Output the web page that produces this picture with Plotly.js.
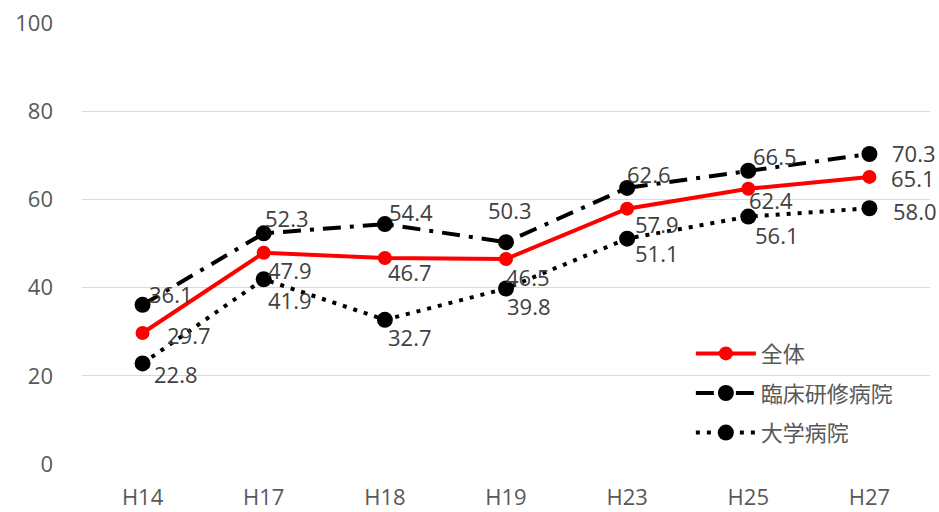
<!DOCTYPE html>
<html>
<head>
<meta charset="utf-8">
<script src="https://cdn.plot.ly/plotly-3.0.1.min.js"></script>
<style>html,body{margin:0;padding:0;background:#fff;}#chart{width:939px;height:512px;}</style>
</head>
<body>
<div id="chart"></div>
<script>
const categories = ["H14", "H17", "H18", "H19", "H23", "H25", "H27"];
const seriesNames = ["全体", "臨床研修病院", "大学病院"];
const allValues = [29.7, 47.9, 46.7, 46.5, 57.9, 62.4, 65.1];
const clinicalValues = [36.1, 52.3, 54.4, 50.3, 62.6, 66.5, 70.3];
const universityValues = [22.8, 41.9, 32.7, 39.8, 51.1, 56.1, 58.0];
const yTicks = [0, 20, 40, 60, 80, 100];

// label offsets in pixels (dx right, dy down) relative to each marker
const allOffsets = [[46, 2], [26, 17], [25, 14], [22, 18], [30, 15], [23, 11], [44, 1]];
const clinicalOffsets = [[28, -11], [23, -15], [26, -12], [4, -32], [22, -14], [27, -15], [45, -1]];
const univOffsets = [[33, 11], [26, 21], [25, 17], [23, 18], [30, 14], [29, 18], [46, 3]];

const FONT = '"Open Sans", "Noto Sans CJK JP", sans-serif';
const labelFont = {family: FONT, size: 22, color: "#404040"};
const fmt = v => v.toFixed(1);

const traces = [
  {
    x: categories, y: allValues, name: seriesNames[0], type: "scatter", mode: "lines+markers",
    legendgroup: "a", legendrank: 1,
    line: {color: "#ff0000", width: 4},
    marker: {color: "#ff0000", size: 14, symbol: "circle"}
  },
  {
    x: categories, y: clinicalValues, name: seriesNames[1], type: "scatter", mode: "lines+markers",
    legendgroup: "b", legendrank: 2,
    line: {color: "#000000", width: 4, dash: "18px,9px,4px,9px"},
    marker: {color: "#000000", size: 16, symbol: "circle"}
  },
  {
    x: categories, y: universityValues, name: seriesNames[2], type: "scatter", mode: "lines+markers",
    legendgroup: "c", legendrank: 3,
    line: {color: "#000000", width: 4, dash: "4px,7px"},
    marker: {color: "#000000", size: 16, symbol: "circle"}
  }
];
const drawOrder = [traces[1], traces[2], traces[0]];

function labels(values, offsets) {
  return values.map((v, i) => ({
    x: categories[i], y: v, xref: "x", yref: "y",
    text: fmt(v), showarrow: false, xanchor: "center", yanchor: "middle",
    xshift: offsets[i][0], yshift: -offsets[i][1], font: labelFont
  }));
}
const annotations = [].concat(
  labels(clinicalValues, clinicalOffsets),
  labels(universityValues, univOffsets),
  labels(allValues, allOffsets)
);

const layout = {
  width: 939, height: 512,
  margin: {l: 82, r: 9, t: 23, b: 48},
  paper_bgcolor: "#ffffff", plot_bgcolor: "#ffffff",
  font: {family: FONT, size: 22, color: "#595959"},
  showlegend: true,
  legend: {
    x: 0.718, y: 0.298, xanchor: "left", yanchor: "top",
    bgcolor: "rgba(0,0,0,0)", traceorder: "grouped", tracegroupgap: 8,
    font: {family: FONT, size: 22, color: "#595959"},
    itemwidth: 60
  },
  annotations: annotations,
  xaxis: {
    type: "category", categoryorder: "array", categoryarray: categories,
    range: [-0.5, 6.5], showgrid: false, zeroline: false, showline: false,
    ticks: "", ticklabelstandoff: 18,
    tickfont: {family: FONT, size: 22, color: "#595959"}
  },
  yaxis: {
    range: [0, 100], tickvals: yTicks, showgrid: true, gridcolor: "#d9d9d9", gridwidth: 1,
    zeroline: false, showline: false, ticks: "", ticklabelstandoff: 28,
    tickfont: {family: FONT, size: 22, color: "#595959"}
  }
};

Plotly.newPlot("chart", drawOrder, layout, {displayModeBar: false, staticPlot: true});
</script>
</body>
</html>
